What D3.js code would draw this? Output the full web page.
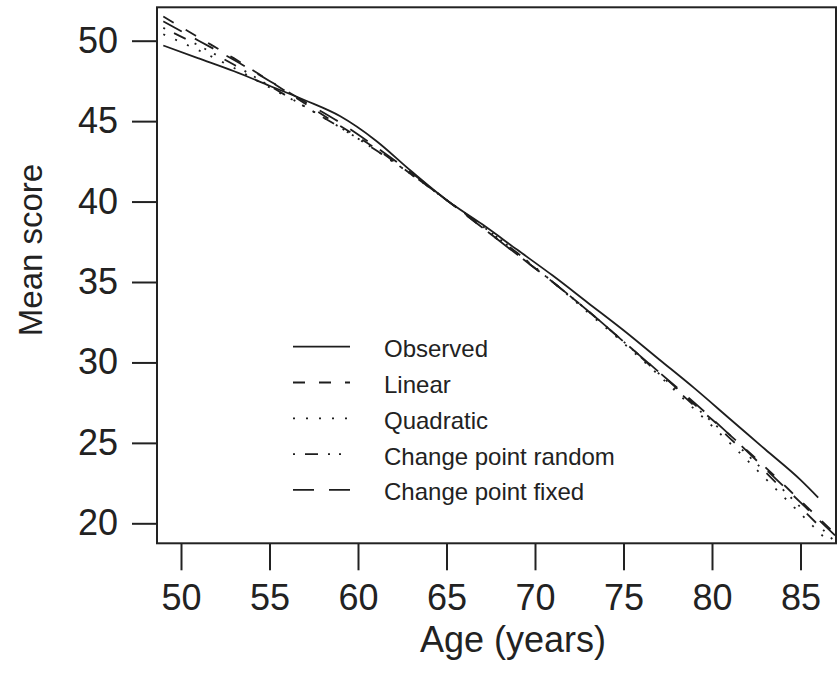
<!DOCTYPE html>
<html>
<head>
<meta charset="utf-8">
<script src="https://cdn.jsdelivr.net/npm/d3@7"></script>
<style>
  body { margin: 0; background: #fff; }
  svg { display: block; font-family: "Liberation Sans", Arial, Helvetica, sans-serif; }
</style>
</head>
<body>
<div id="chart"></div>
<script>
// ages (years) for the observed curve and for the fitted models
var obsAges   = [49, 51, 53, 55, 57, 59, 61, 63, 65, 67, 69, 71, 73, 75, 77, 79, 81, 83, 85, 86];
var modelAges = [49, 51, 53, 55, 57, 59, 61, 63, 65, 67, 69, 71, 73, 75, 77, 79, 81, 83, 85, 87];

// mean score
var observed  = [49.7, 48.9, 48.1, 47.2, 46.3, 45.3, 43.8, 41.9, 40.1, 38.6, 37.0, 35.4, 33.7, 32.0, 30.2, 28.4, 26.5, 24.6, 22.7, 21.6];
var linear    = [51.5, 50.2, 48.9, 47.5, 46.1, 44.7, 43.3, 41.7, 40.1, 38.4, 36.7, 35.0, 33.2, 31.3, 29.4, 27.4, 25.5, 23.5, 21.4, 19.3];
var quadratic = [50.4, 49.4, 48.3, 47.1, 45.9, 44.6, 43.2, 41.7, 40.1, 38.5, 36.8, 35.0, 33.1, 31.2, 29.2, 27.1, 25.0, 22.8, 20.6, 18.4];
var cpRandom  = [50.8, 49.7, 48.5, 47.2, 45.9, 44.6, 43.2, 41.7, 40.1, 38.5, 36.8, 35.0, 33.2, 31.3, 29.3, 27.3, 25.3, 23.2, 21.0, 18.8];
var cpFixed   = [51.2, 50.0, 48.8, 47.5, 46.2, 44.9, 43.4, 41.8, 40.1, 38.4, 36.7, 35.0, 33.2, 31.3, 29.4, 27.5, 25.5, 23.4, 21.3, 19.2];

var seriesNames = ["Observed", "Linear", "Quadratic", "Change point random", "Change point fixed"];
var xTicks = [50, 55, 60, 65, 70, 75, 80, 85];
var yTicks = [20, 25, 30, 35, 40, 45, 50];

var width = 838, height = 679;
var box = { left: 157, right: 836, top: 7.3, bottom: 543.3 };

var x = d3.scaleLinear().domain([48.644, 87.006]).range([box.left, box.right]);
var y = d3.scaleLinear().domain([18.757, 52.076]).range([box.bottom, box.top]);

// dash patterns per series (Observed solid)
var dashes = [null, "12,14", "2,11", "2,10,13,10,2,9,2,9", "21,15"];

var series = [
  { name: seriesNames[0], ages: obsAges,   values: observed },
  { name: seriesNames[1], ages: modelAges, values: linear },
  { name: seriesNames[2], ages: modelAges, values: quadratic },
  { name: seriesNames[3], ages: modelAges, values: cpRandom },
  { name: seriesNames[4], ages: modelAges, values: cpFixed }
];

var svg = d3.select("#chart").append("svg")
  .attr("width", width)
  .attr("height", height);

svg.append("defs").append("clipPath").attr("id", "clip")
  .append("rect")
  .attr("x", box.left).attr("y", box.top)
  .attr("width", box.right - box.left)
  .attr("height", box.bottom - box.top);

var line = d3.line()
  .x(function(d) { return x(d[0]); })
  .y(function(d) { return y(d[1]); })
  .curve(d3.curveMonotoneX);

svg.append("g").attr("clip-path", "url(#clip)")
  .selectAll("path")
  .data(series)
  .enter().append("path")
  .attr("d", function(s) { return line(s.ages.map(function(a, i) { return [a, s.values[i]]; })); })
  .attr("fill", "none")
  .attr("stroke", "#1e1e1e")
  .attr("stroke-width", 1.8)
  .attr("stroke-dasharray", function(s, i) { return dashes[i]; });

// axes
var yAxis = svg.append("g")
  .attr("transform", "translate(" + box.left + ",0)")
  .call(d3.axisLeft(y).tickValues(yTicks).tickSize(25).tickPadding(14));
var xAxis = svg.append("g")
  .attr("transform", "translate(0," + box.bottom + ")")
  .call(d3.axisBottom(x).tickValues(xTicks).tickSize(27).tickPadding(14));

[xAxis, yAxis].forEach(function(g) {
  g.select(".domain").remove();
  g.selectAll("line").attr("stroke", "#222").attr("stroke-width", 2);
  g.selectAll("text").attr("fill", "#222").style("font-size", "36px");
});

// plot box
svg.append("rect")
  .attr("x", box.left).attr("y", box.top)
  .attr("width", box.right - box.left)
  .attr("height", box.bottom - box.top)
  .attr("fill", "none")
  .attr("stroke", "#222")
  .attr("stroke-width", 2);

// axis titles
svg.append("text")
  .attr("x", 513).attr("y", 652)
  .attr("text-anchor", "middle")
  .style("font-size", "36px")
  .attr("fill", "#222")
  .text("Age (years)");

svg.append("text")
  .attr("transform", "translate(42,250) rotate(-90)")
  .attr("text-anchor", "middle")
  .style("font-size", "33px")
  .attr("fill", "#222")
  .text("Mean score");

// legend
var legend = svg.append("g")
  .selectAll("g")
  .data(series)
  .enter().append("g")
  .attr("transform", function(d, i) { return "translate(293," + (346.7 + i * 35.8) + ")"; });

legend.append("line")
  .attr("x1", 0).attr("x2", 57)
  .attr("stroke", "#1e1e1e")
  .attr("stroke-width", 1.8)
  .attr("stroke-dasharray", function(d, i) { return dashes[i]; });

legend.append("text")
  .attr("x", 91).attr("y", 2)
  .attr("dominant-baseline", "central")
  .style("font-size", "24px")
  .attr("fill", "#222")
  .text(function(d) { return d.name; });
</script>
</body>
</html>
